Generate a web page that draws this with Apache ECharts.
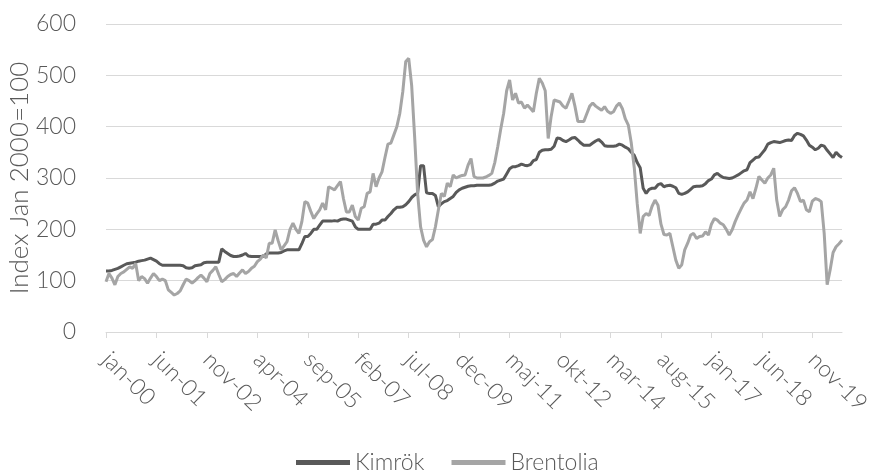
<!DOCTYPE html>
<html>
<head>
<meta charset="utf-8">
<title>Kimrök och Brentolia</title>
<script src="https://cdn.jsdelivr.net/npm/echarts@6/dist/echarts.min.js"></script>
<style>
    html, body { margin: 0; padding: 0; background: #fff; }
    #chart { width: 871px; height: 470px; }
</style>
</head>
<body>
<div id="chart"></div>
<script>
// månadsdata jan-00 .. sep-20, index jan 2000 = 100
const monthNames = ['jan', 'feb', 'mar', 'apr', 'maj', 'jun', 'jul', 'aug', 'sep', 'okt', 'nov', 'dec'];
const startYear = 2000;
const monthCount = 249;

const yTicks = { min: 0, max: 600, interval: 100 };

const kimrok = [
    119, 119, 120, 122, 124, 127, 130, 133, 134, 135, 136, 138, 139, 140, 142, 144, 141, 138, 133, 130,
    130, 130, 130, 130, 130, 130, 129, 125, 124, 125, 129, 130, 131, 135, 136, 136, 136, 136, 136, 162,
    157, 153, 149, 147, 147, 148, 150, 153, 148, 147, 147, 147, 147, 147, 152, 154, 154, 154, 154, 155,
    158, 160, 160, 160, 160, 160, 172, 186, 186, 192, 200, 200, 208, 216, 216, 216, 216, 217, 216, 219,
    220, 220, 218, 216, 205, 200, 200, 200, 200, 200, 210, 210, 212, 218, 218, 225, 231, 238, 243, 243,
    244, 248, 254, 262, 267, 270, 324, 324, 271, 270, 270, 266, 244, 250, 254, 256, 260, 264, 272, 277,
    280, 282, 284, 285, 285, 286, 286, 286, 286, 286, 287, 290, 294, 296, 298, 308, 318, 322, 322, 324,
    327, 325, 324, 326, 334, 336, 350, 354, 355, 355, 356, 362, 378, 377, 373, 371, 374, 378, 379, 374,
    368, 364, 364, 364, 368, 372, 375, 370, 363, 362, 362, 362, 363, 366, 364, 360, 357, 350, 344, 330,
    320, 280, 270, 278, 280, 280, 287, 289, 283, 285, 286, 284, 281, 270, 268, 270, 273, 278, 283, 284,
    284, 285, 289, 295, 298, 306, 309, 304, 301, 300, 299, 300, 303, 306, 310, 314, 316, 330, 335, 340,
    341, 348, 355, 366, 369, 371, 370, 369, 371, 373, 374, 373, 383, 387, 385, 382, 374, 364, 360, 355,
    358, 364, 362, 354, 347, 340, 350, 344, 340
];

const brentolia = [
    98, 114, 105, 92, 108, 114, 117, 122, 127, 124, 134, 100, 108, 104, 95, 105, 114, 108, 100, 103,
    100, 82, 77, 72, 75, 80, 92, 103, 100, 95, 100, 106, 111, 105, 98, 114, 120, 127, 112, 98,
    102, 108, 112, 114, 108, 115, 121, 114, 118, 124, 128, 137, 142, 150, 144, 173, 173, 199, 178, 160,
    168, 176, 200, 212, 200, 192, 215, 254, 251, 235, 221, 230, 238, 251, 238, 283, 280, 277, 285, 293,
    260, 234, 234, 247, 225, 218, 241, 244, 270, 273, 309, 283, 300, 312, 340, 366, 368, 384, 400, 426,
    468, 527, 533, 480, 380, 270, 205, 179, 166, 176, 180, 205, 238, 270, 264, 290, 283, 306, 300, 303,
    305, 306, 325, 338, 303, 300, 300, 300, 302, 305, 309, 330, 361, 395, 426, 470, 491, 452, 465, 446,
    448, 436, 442, 436, 429, 465, 494, 485, 470, 377, 420, 452, 450, 448, 440, 436, 450, 465, 440, 410,
    410, 410, 425, 440, 446, 440, 436, 432, 439, 430, 426, 429, 440, 446, 435, 415, 403, 368, 320, 250,
    192, 225, 231, 227, 245, 257, 247, 210, 190, 189, 192, 166, 140, 124, 131, 160, 173, 189, 192, 182,
    186, 187, 195, 189, 210, 221, 218, 212, 209, 200, 189, 199, 215, 228, 240, 251, 257, 273, 260, 280,
    303, 296, 290, 300, 306, 319, 257, 225, 238, 244, 257, 275, 281, 270, 254, 257, 238, 234, 255, 260,
    258, 254, 192, 92, 121, 155, 166, 172, 179
];

// kategorier: "jan-00", "feb-00", ...
const categories = [];
for (let i = 0; i < monthCount; i++) {
    const year = startYear + Math.floor(i / 12);
    categories.push(monthNames[i % 12] + '-' + String(year).slice(2));
}

const textColor = '#595959';
const fontFamily = 'Lato';

var myChart = echarts.init(document.getElementById('chart'));
myChart.setOption({
    animation: false,
    textStyle: { fontFamily: fontFamily, fontWeight: 300 },
    grid: { left: 106, right: 29, top: 24, bottom: 138, outerBoundsMode: 'none' },
    legend: {
        data: ['Kimrök', 'Brentolia'],
        top: 446,
        left: 291,
        icon: 'rect',
        itemWidth: 54,
        itemHeight: 5,
        itemGap: 27,
        textStyle: { color: textColor, fontSize: 23, fontFamily: fontFamily, fontWeight: 300 }
    },
    xAxis: {
        type: 'category',
        data: categories,
        boundaryGap: false,
        axisLine: { lineStyle: { color: '#d9d9d9', width: 1 } },
        axisTick: { show: true, interval: 16, length: 6, lineStyle: { color: '#d9d9d9' } },
        axisLabel: {
            interval: 16,
            rotate: -45,
            margin: 24,
            color: textColor,
            fontSize: 23,
            fontFamily: fontFamily,
            fontWeight: 300
        },
        splitLine: { show: false }
    },
    yAxis: {
        type: 'value',
        min: yTicks.min,
        max: yTicks.max,
        interval: yTicks.interval,
        name: 'Index Jan 2000=100',
        nameLocation: 'middle',
        nameGap: 73,
        nameMoveOverlap: false,
        nameTextStyle: { color: textColor, fontSize: 26, fontFamily: fontFamily, fontWeight: 300 },
        axisLine: { show: false },
        axisTick: { show: false },
        axisLabel: { margin: 30, color: textColor, fontSize: 23, fontFamily: fontFamily, fontWeight: 300 },
        splitLine: { lineStyle: { color: '#d9d9d9', width: 1 } }
    },
    series: [
        {
            name: 'Kimrök',
            type: 'line',
            data: kimrok,
            symbol: 'none',
            itemStyle: { color: '#595959' },
            lineStyle: { color: '#595959', width: 3 }
        },
        {
            name: 'Brentolia',
            type: 'line',
            data: brentolia,
            symbol: 'none',
            itemStyle: { color: '#a5a5a5' },
            lineStyle: { color: '#a5a5a5', width: 3 }
        }
    ]
});
</script>
</body>
</html>
